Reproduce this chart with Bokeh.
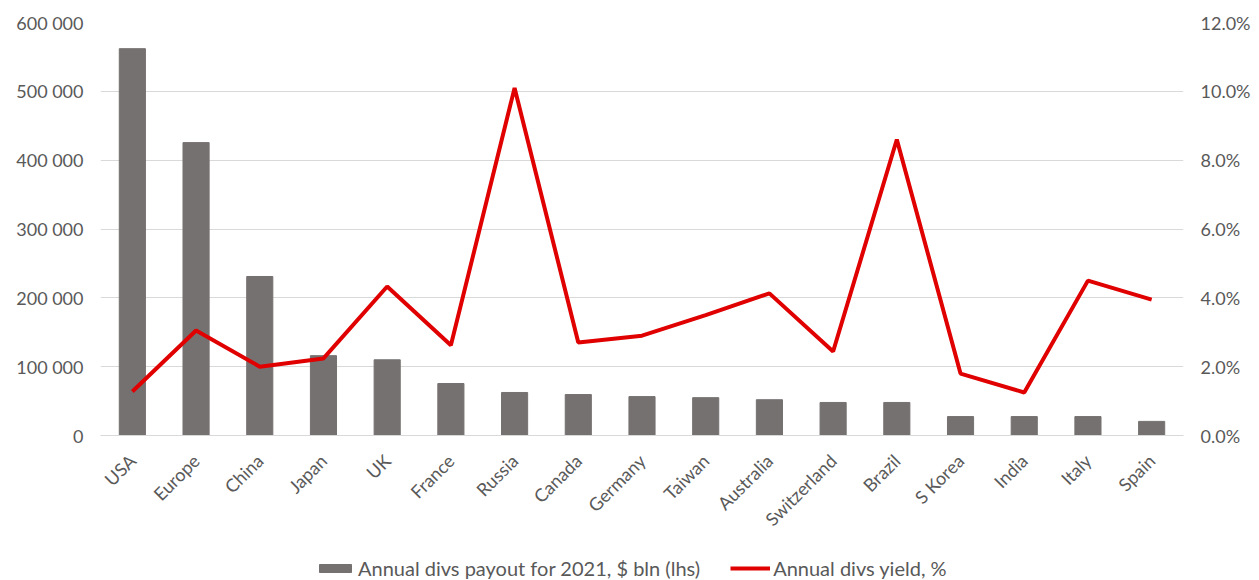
import math
from bokeh.plotting import figure
from bokeh.layouts import column
from bokeh.models import (Range1d, FactorRange, LinearAxis, FixedTicker, NumeralTickFormatter,
                          Legend, LegendItem, ColumnDataSource)
from bokeh.embed import file_html
from bokeh.resources import INLINE

countries = ["USA", "Europe", "China", "Japan", "UK", "France", "Russia", "Canada", "Germany",
             "Taiwan", "Australia", "Switzerland", "Brazil", "S Korea", "India", "Italy", "Spain"]
payout = [562000, 425500, 231000, 116000, 110000, 75500, 62500, 59500, 56500,
          55000, 52000, 48000, 48000, 27500, 27500, 27500, 20500]
yield_pct = [0.0128, 0.0305, 0.0200, 0.0224, 0.0433, 0.0262, 0.1010, 0.0270, 0.0290,
             0.0350, 0.0413, 0.0244, 0.0860, 0.0180, 0.0125, 0.0450, 0.0395]
left_ticks = [0, 100000, 200000, 300000, 400000, 500000, 600000]
left_labels = ["0", "100 000", "200 000", "300 000", "400 000", "500 000", "600 000"]
right_ticks = [0.0, 0.02, 0.04, 0.06, 0.08, 0.10, 0.12]
series_names = ["Annual divs payout for 2021, $ bln (lhs)", "Annual divs yield, %"]

FONT = "Lato"
GREY = "#595959"
FS = "18px"
BAR_C = "#767171"
LINE_C = "#E00000"

src = ColumnDataSource(dict(x=countries, payout=payout, yld=yield_pct))
xr = FactorRange(*countries, range_padding=0)

p = figure(width=1259, height=555, output_backend="svg", toolbar_location=None,
           x_range=xr, y_range=Range1d(0, 600000),
           min_border_left=100, min_border_right=76, min_border_top=22, min_border_bottom=120)
p.extra_y_ranges = {"pct": Range1d(0, 0.12)}
p.outline_line_color = None
p.xgrid.grid_line_color = None
p.ygrid.grid_line_color = "#D9D9D9"
p.ygrid.ticker = FixedTicker(ticks=left_ticks)

p.vbar(x="x", top="payout", width=0.41, source=src, color=BAR_C)
p.line(x="x", y="yld", source=src, y_range_name="pct", line_color=LINE_C, line_width=4)

# left axis
la = p.yaxis[0]
la.ticker = FixedTicker(ticks=left_ticks)
la.major_label_overrides = {t: l for t, l in zip(left_ticks, left_labels)}
la.axis_line_color = None
la.major_tick_line_color = None
la.major_tick_out = 0
la.minor_tick_line_color = None
la.minor_tick_out = 0
la.major_label_text_font = FONT
la.major_label_text_font_size = FS
la.major_label_text_color = GREY
la.major_label_standoff = 17

# right axis
ra = LinearAxis(y_range_name="pct", ticker=FixedTicker(ticks=right_ticks),
                formatter=NumeralTickFormatter(format="0.0%"))
ra.axis_line_color = None
ra.major_tick_line_color = None
ra.major_tick_out = 0
ra.minor_tick_line_color = None
ra.minor_tick_out = 0
ra.major_label_text_font = FONT
ra.major_label_text_font_size = FS
ra.major_label_text_color = GREY
ra.major_label_standoff = 17
p.add_layout(ra, "right")

# bottom axis
xa = p.xaxis[0]
xa.axis_line_color = "#D9D9D9"
xa.major_tick_line_color = None
xa.major_tick_out = 0
xa.major_label_orientation = math.pi / 4
xa.major_label_text_font = FONT
xa.major_label_text_font_size = FS
xa.major_label_text_color = GREY
xa.major_label_standoff = 22

# legend strip (proxy renderers share the data but sit outside the visible y-range)
lf = figure(width=1259, height=25, output_backend="svg", toolbar_location=None,
            x_range=xr, y_range=Range1d(1e9, 1e9 + 1), x_axis_type=None, y_axis_type=None,
            min_border=0)
lf.extra_y_ranges = {"pct": Range1d(1e9, 1e9 + 1)}
lf.outline_line_color = None
lf.grid.visible = False
r_bar = lf.vbar(x="x", top="payout", width=0.41, source=src, color=BAR_C)
r_line = lf.line(x="x", y="yld", source=src, y_range_name="pct", line_color=LINE_C, line_width=4)
legend = Legend(items=[LegendItem(label=series_names[0], renderers=[r_bar]),
                       LegendItem(label=series_names[1], renderers=[r_line])],
                orientation="horizontal", location=(215, 0),
                glyph_width=40, glyph_height=10, label_standoff=3, spacing=30,
                label_text_font=FONT, label_text_font_size="20px", label_text_color=GREY,
                border_line_color=None, background_fill_alpha=0, padding=0, margin=0)
lf.add_layout(legend, "center")

layout = column(p, lf, spacing=0)
open("out.html", "w").write(file_html(layout, INLINE))
